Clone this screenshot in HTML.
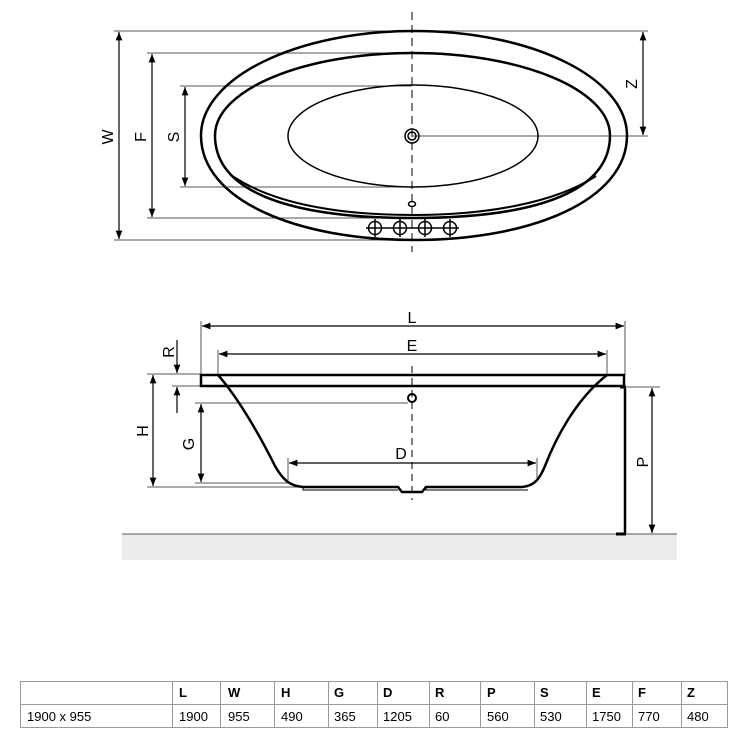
<!DOCTYPE html>
<html><head><meta charset="utf-8"><style>
body{margin:0;background:#fff;width:750px;height:750px;overflow:hidden}
svg{display:block}
text{font-family:"Liberation Sans",sans-serif}
</style></head><body>
<svg width="750" height="750" viewBox="0 0 750 750" xmlns="http://www.w3.org/2000/svg">
<defs>
<marker id="a" viewBox="0 0 10 10" refX="10" refY="5" markerWidth="7" markerHeight="7" orient="auto-start-reverse"><path d="M0,1 L10,5 L0,9 z" fill="#000"/></marker>
</defs>
<!-- TOP VIEW -->
<g fill="none" stroke="#000">
<line x1="412" y1="12" x2="412" y2="252" stroke-dasharray="8,5" stroke-width="1"/>
<g stroke="#555" stroke-width="1">
<line x1="114" y1="31" x2="648" y2="31"/>
<line x1="147" y1="53" x2="412" y2="53"/>
<line x1="180" y1="86" x2="412" y2="86"/>
<line x1="412" y1="136" x2="648" y2="136"/>
<line x1="180" y1="187" x2="412" y2="187"/>
<line x1="147" y1="218" x2="412" y2="218"/>
<line x1="114" y1="240" x2="412" y2="240"/>
</g>
<g stroke-width="1.2" marker-start="url(#a)" marker-end="url(#a)">
<line x1="119" y1="32" x2="119" y2="239"/>
<line x1="152" y1="54" x2="152" y2="217"/>
<line x1="185" y1="87" x2="185" y2="186"/>
<line x1="643" y1="32" x2="643" y2="135"/>
</g>
<path d="M201,135.5 C201,78 296,31 414,31 C532,31 627,78 627,135.5 C627,200 532,240 414,240 C296,240 201,200 201,135.5 Z" stroke-width="2.5"/>
<path d="M215,135.5 C215,90 303,53 412.5,53 C522,53 610,90 610,135.5 C610,190 540,218 412.5,218 C285,218 215,190 215,135.5 Z" stroke-width="2.5"/>
<ellipse cx="413" cy="136" rx="125" ry="51" stroke-width="1.5"/>
<path d="M234,177 C275,204 340,215 413,215 C486,215 555,203 596,176" stroke-width="2"/>
<circle cx="412" cy="136" r="7" stroke-width="1.5"/>
<circle cx="412" cy="136" r="4" stroke-width="1.5"/>
<ellipse cx="412" cy="204" rx="3.5" ry="2.5" stroke-width="1.5"/>
<g stroke-width="1.5">
<circle cx="375" cy="228" r="6.5"/><circle cx="400" cy="228" r="6.5"/><circle cx="425" cy="228" r="6.5"/><circle cx="450" cy="228" r="6.5"/>
<path d="M366,228H459 M375,219v18 M400,219v18 M425,219v18 M450,219v18"/>
</g>
</g>
<g font-size="16" fill="#000" text-anchor="middle">
<text transform="translate(113,137) rotate(-90)">W</text>
<text transform="translate(146,137) rotate(-90)">F</text>
<text transform="translate(179,137) rotate(-90)">S</text>
<text transform="translate(637,84) rotate(-90)">Z</text>
</g>
<!-- SIDE VIEW -->
<rect x="122" y="534" width="555" height="26" fill="#ececec"/>
<line x1="122" y1="534" x2="677" y2="534" stroke="#555" stroke-width="1"/>
<g fill="none" stroke="#000">
<line x1="412" y1="366" x2="412" y2="500" stroke-dasharray="7,5" stroke-width="1"/>
<g stroke="#555" stroke-width="1">
<line x1="201" y1="321" x2="201" y2="375"/>
<line x1="625" y1="321" x2="625" y2="375"/>
<line x1="218" y1="350" x2="218" y2="375"/>
<line x1="607" y1="350" x2="607" y2="375"/>
<line x1="147" y1="374" x2="201" y2="374"/>
<line x1="172" y1="386" x2="201" y2="386"/>
<line x1="195" y1="403" x2="408" y2="403"/>
<line x1="195" y1="483" x2="290" y2="483"/>
<line x1="147" y1="487" x2="300" y2="487"/>
<line x1="627" y1="387" x2="660" y2="387"/>
<line x1="288" y1="458" x2="288" y2="480"/>
<line x1="537" y1="458" x2="537" y2="478"/>
</g>
<g stroke-width="1.2" marker-start="url(#a)" marker-end="url(#a)">
<line x1="202" y1="326" x2="624" y2="326"/>
<line x1="219" y1="354" x2="606" y2="354"/>
<line x1="289" y1="463" x2="536" y2="463"/>
<line x1="153" y1="375" x2="153" y2="486"/>
<line x1="201" y1="404" x2="201" y2="482"/>
<line x1="652" y1="388" x2="652" y2="533"/>
</g>
<g stroke-width="1.2">
<line x1="177" y1="340" x2="177" y2="373" marker-end="url(#a)"/>
<line x1="177" y1="413" x2="177" y2="387" marker-end="url(#a)"/>
</g>
<rect x="201" y="375" width="423" height="11" stroke-width="2.5"/>
<path d="M218,375 C240,400 262,440 275,466 C283,480 290,486 303,487 L398,487 L402,492 L422,492 L426,487 L522,487 C535,486 540,478 545,466 C555,440 575,400 607,375" stroke-width="2.5"/>
<path d="M303,487 v3 h95 M426,487 v3 h102" stroke-width="1"/>
<line x1="625" y1="386" x2="625" y2="534" stroke-width="2.5"/>
<path d="M616,534 h10 M620,387 h6" stroke-width="3"/>
<circle cx="412" cy="398" r="4" stroke-width="2"/>
</g>
<g font-size="16" fill="#000" text-anchor="middle">
<text x="412" y="323">L</text>
<text x="412" y="351">E</text>
<text x="401" y="459">D</text>
<text transform="translate(174,352) rotate(-90)">R</text>
<text transform="translate(148,431) rotate(-90)">H</text>
<text transform="translate(194,444) rotate(-90)">G</text>
<text transform="translate(648,462) rotate(-90)">P</text>
</g>
<!-- TABLE -->
<g stroke="#999" stroke-width="1" fill="none">
<rect x="20.5" y="681.5" width="707" height="46"/>
<line x1="20" y1="704.5" x2="728" y2="704.5"/>
<path d="M172.5,681v46 M220.5,681v46 M274.5,681v46 M328.5,681v46 M377.5,681v46 M429.5,681v46 M480.5,681v46 M534.5,681v46 M586.5,681v46 M632.5,681v46 M681.5,681v46"/>
</g>
<g font-size="13" fill="#000">
<g font-weight="bold">
<text x="179" y="697">L</text><text x="228" y="697">W</text><text x="281" y="697">H</text><text x="334" y="697">G</text><text x="383" y="697">D</text><text x="435" y="697">R</text><text x="487" y="697">P</text><text x="540" y="697">S</text><text x="592" y="697">E</text><text x="638" y="697">F</text><text x="687" y="697">Z</text>
</g>
<text x="27" y="721">1900 x 955</text>
<text x="179" y="721">1900</text><text x="228" y="721">955</text><text x="281" y="721">490</text><text x="334" y="721">365</text><text x="383" y="721">1205</text><text x="435" y="721">60</text><text x="487" y="721">560</text><text x="540" y="721">530</text><text x="592" y="721">1750</text><text x="638" y="721">770</text><text x="687" y="721">480</text>
</g>
</svg>
</body></html>
